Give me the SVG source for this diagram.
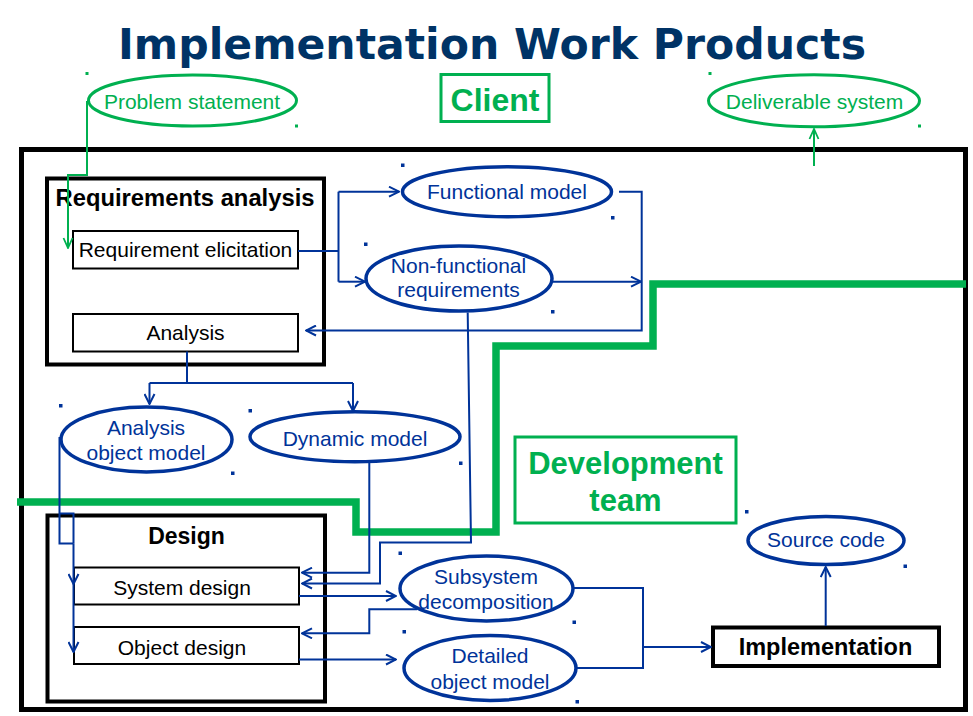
<svg xmlns="http://www.w3.org/2000/svg" width="973" height="716" viewBox="0 0 973 716">
<style>
.t{font-family:"Liberation Sans",Arial,sans-serif;font-size:21px;text-anchor:middle}
.b{font-family:"Liberation Sans",Arial,sans-serif;font-weight:bold;text-anchor:middle;fill:#000}
.blue{fill:#003399}
.grn{fill:#00b050}
.ell{fill:#fff;stroke:#003399;stroke-width:3.5}
.gell{fill:#fff;stroke:#00b050;stroke-width:3}
.box{fill:#fff;stroke:#000;stroke-width:2}
.big{fill:none;stroke:#000;stroke-width:4}
.c{fill:none;stroke:#003399;stroke-width:2}
.gc{fill:none;stroke:#00b050;stroke-width:2}
.dot{fill:#003399}
.gdot{fill:#00b050}
</style>
<defs>
<marker id="ab" viewBox="0 0 12 12" refX="11" refY="6" markerWidth="12" markerHeight="12" markerUnits="userSpaceOnUse" orient="auto">
<path d="M1,1 L11,6 L1,11" fill="none" stroke="#003399" stroke-width="2"/>
</marker>
<marker id="ag" viewBox="0 0 12 12" refX="11" refY="6" markerWidth="12" markerHeight="12" markerUnits="userSpaceOnUse" orient="auto">
<path d="M1,1.5 L11,6 L1,10.5" fill="none" stroke="#00b050" stroke-width="1.8"/>
</marker>
</defs>
<rect width="973" height="716" fill="#fff"/>
<text x="492" y="59" font-family="DejaVu Sans,sans-serif" font-weight="bold" font-size="42" fill="#003366" text-anchor="middle" textLength="748" lengthAdjust="spacingAndGlyphs">Implementation Work Products</text>

<rect id="outer" x="21.5" y="149.5" width="944" height="560" fill="none" stroke="#000" stroke-width="5"/>

<path id="boundary" d="M17,502 H356 V532 H496 V346 H653 V284 H966" fill="none" stroke="#00b050" stroke-width="7.5"/>

<g id="client">
<rect x="441" y="74.5" width="108" height="47" fill="none" stroke="#00b050" stroke-width="3"/>
<text x="495" y="111" class="b grn" font-size="32" style="fill:#00b050">Client</text>
</g>

<g id="devteam">
<rect x="515" y="437" width="221" height="86" fill="none" stroke="#00b050" stroke-width="3"/>
<text x="625.5" y="474" class="b" font-size="31" style="fill:#00b050">Development</text>
<text x="625.5" y="511" class="b" font-size="31" style="fill:#00b050">team</text>
</g>

<g id="problem">
<ellipse cx="192.5" cy="100.5" rx="104" ry="25.5" class="gell"/>
<text x="192" y="109" class="t grn">Problem statement</text>
<rect x="85.5" y="72" width="3" height="3" class="gdot"/>
<rect x="295" y="124.5" width="3" height="3" class="gdot"/>
</g>

<g id="deliverable">
<ellipse cx="814" cy="100.8" rx="105.5" ry="26" class="gell"/>
<text x="814.5" y="109" class="t grn">Deliverable system</text>
<rect x="708.5" y="72" width="3" height="3" class="gdot"/>
<rect x="918" y="124.5" width="3" height="3" class="gdot"/>
</g>

<g id="reqanalysis">
<rect x="47" y="178.5" width="277" height="186" class="big"/>
<text x="185" y="206" class="b" font-size="23" textLength="259" lengthAdjust="spacingAndGlyphs">Requirements analysis</text>
</g>

<g id="reqelicitation">
<rect x="73" y="231" width="225" height="37.5" class="box"/>
<text x="185.5" y="257" class="t">Requirement elicitation</text>
</g>

<g id="analysis">
<rect x="73" y="314" width="225" height="37.5" class="box"/>
<text x="185.5" y="340" class="t">Analysis</text>
</g>

<g id="functional">
<ellipse cx="507" cy="191.7" rx="104.5" ry="25" class="ell"/>
<text x="507" y="199" class="t blue">Functional model</text>
<rect x="401" y="163.5" width="3.5" height="3.5" class="dot"/>
<rect x="611" y="216" width="3.5" height="3.5" class="dot"/>
</g>

<g id="nonfunctional">
<ellipse cx="459" cy="278.5" rx="93" ry="32.5" class="ell"/>
<text x="458.5" y="273" class="t blue">Non-functional</text>
<text x="458.5" y="297" class="t blue">requirements</text>
<rect x="364" y="242.5" width="3.5" height="3.5" class="dot"/>
<rect x="551" y="310" width="3.5" height="3.5" class="dot"/>
</g>

<g id="analysisobject">
<ellipse cx="146.5" cy="439.5" rx="85.5" ry="32.5" class="ell"/>
<text x="146" y="435" class="t blue">Analysis</text>
<text x="146" y="460" class="t blue">object model</text>
<rect x="59" y="404" width="3.5" height="3.5" class="dot"/>
<rect x="231" y="471.5" width="3.5" height="3.5" class="dot"/>
</g>

<g id="dynamic">
<ellipse cx="355" cy="436.7" rx="105" ry="25" class="ell"/>
<text x="355" y="446" class="t blue">Dynamic model</text>
<rect x="248.5" y="409" width="3.5" height="3.5" class="dot"/>
<rect x="459" y="461.5" width="3.5" height="3.5" class="dot"/>
</g>

<g id="design">
<rect x="47.5" y="515.5" width="277.5" height="186" class="big"/>
<text x="186.5" y="543.5" class="b" font-size="23">Design</text>
</g>

<g id="systemdesign">
<rect x="74" y="567.5" width="225" height="37" class="box"/>
<text x="182" y="595" class="t">System design</text>
</g>

<g id="objectdesign">
<rect x="74" y="627" width="225" height="37" class="box"/>
<text x="182" y="655" class="t">Object design</text>
</g>

<g id="subsystem">
<ellipse cx="486.5" cy="588.5" rx="86.5" ry="32.5" class="ell"/>
<text x="486" y="584" class="t blue">Subsystem</text>
<text x="486" y="609" class="t blue">decomposition</text>
<rect x="398.5" y="551.5" width="3.5" height="3.5" class="dot"/>
<rect x="572.5" y="620.5" width="3.5" height="3.5" class="dot"/>
</g>

<g id="detailed">
<ellipse cx="490" cy="668" rx="86" ry="32.5" class="ell"/>
<text x="490" y="662.5" class="t blue">Detailed</text>
<text x="490" y="688.5" class="t blue">object model</text>
<rect x="402.5" y="630" width="3.5" height="3.5" class="dot"/>
<rect x="575.5" y="700" width="3.5" height="3.5" class="dot"/>
</g>

<g id="sourcecode">
<ellipse cx="826" cy="540.5" rx="78" ry="24" class="ell"/>
<text x="826" y="547" class="t blue">Source code</text>
<rect x="745" y="510" width="3.5" height="3.5" class="dot"/>
<rect x="903.5" y="564.5" width="3.5" height="3.5" class="dot"/>
</g>

<g id="implementation">
<rect x="713" y="627.5" width="226" height="38.5" class="big"/>
<text x="825.5" y="655" class="b" font-size="23.5">Implementation</text>
</g>

<g id="connectors">
<path class="gc" d="M87,101 V175 H68 V248" marker-end="url(#ag)"/>
<path class="gc" d="M814,166 V129" marker-end="url(#ag)"/>
<path class="c" d="M298,251 H338.5"/>
<path class="c" d="M338.5,191.7 V281.7"/>
<path class="c" d="M338.5,191.7 H399" marker-end="url(#ab)"/>
<path class="c" d="M338.5,281.7 H365" marker-end="url(#ab)"/>
<path class="c" d="M619,191.7 H641.7 V330.5 H306" marker-end="url(#ab)"/>
<path class="c" d="M553,281.7 H641" marker-end="url(#ab)"/>
<path class="c" d="M187,351.5 V383 M149.5,383 H353"/>
<path class="c" d="M149.5,383 V404" marker-end="url(#ab)"/>
<path class="c" d="M353,383 V411" marker-end="url(#ab)"/>
<path class="c" d="M59.5,437 V543.5 H73.5 M59.5,513.5 H73.5 V543.5"/>
<path class="c" d="M73.5,543.5 V584" marker-end="url(#ab)"/>
<path class="c" d="M73.5,584 V652" marker-end="url(#ab)"/>
<path class="c" d="M369.3,463 V572.7 H302" marker-end="url(#ab)"/>
<path class="c" d="M467.7,312.5 L471,542.5 H380 V583.5 H302" marker-end="url(#ab)"/>
<path class="c" d="M299,596 H396" marker-end="url(#ab)"/>
<path class="c" d="M417,609.3 H369.3 V633.3 H302" marker-end="url(#ab)"/>
<path class="c" d="M299,659.5 H396" marker-end="url(#ab)"/>
<path class="c" d="M574,588 H643 V668 H577"/>
<path class="c" d="M643,647 H711" marker-end="url(#ab)"/>
<path class="c" d="M825.7,626 V567" marker-end="url(#ab)"/>
</g>
</svg>
